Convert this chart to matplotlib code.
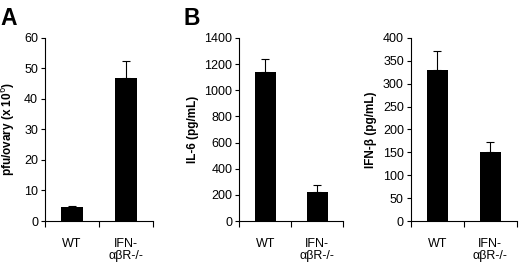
import matplotlib
matplotlib.use("Agg")
import matplotlib.pyplot as plt
import matplotlib.ticker as mticker

plt.rcParams["font.family"] = ["Liberation Sans", "DejaVu Sans"]

groups = ["WT", "IFN-\nαβR-/-"]

pfu_mean = [4.5, 47]
pfu_err = [0.5, 5.5]

il6_mean = [1140, 225]
il6_err = [100, 50]

ifnb_mean = [330, 150]
ifnb_err = [42, 22]

panels = [
    dict(mean=pfu_mean, err=pfu_err, ylim=60, step=10, ylabel="pfu/ovary (x 10$^{6}$)",
         rect=[0.0865, 0.166, 0.208, 0.691], letter="A", lx=0.0),
    dict(mean=il6_mean, err=il6_err, ylim=1400, step=200, ylabel="IL-6 (pg/mL)",
         rect=[0.46, 0.166, 0.20, 0.691], letter="B", lx=0.352),
    dict(mean=ifnb_mean, err=ifnb_err, ylim=400, step=50, ylabel="IFN-β (pg/mL)",
         rect=[0.79, 0.166, 0.204, 0.691], letter=None, lx=None),
]

fig = plt.figure(figsize=(5.2, 2.65), dpi=100)

for p in panels:
    ax = fig.add_axes(p["rect"])
    x = range(len(groups))
    ax.bar(x, p["mean"], width=0.4, color="black", zorder=2)
    ax.errorbar(x, p["mean"], yerr=[[0] * len(groups), p["err"]], fmt="none",
                ecolor="black", elinewidth=0.8, capsize=3, capthick=0.8, zorder=1)
    ax.set_xlim(-0.5, 1.5)
    ax.set_ylim(0, p["ylim"])
    ax.yaxis.set_major_locator(mticker.MultipleLocator(p["step"]))
    ax.set_xticks(list(x))
    ax.set_xticklabels(groups, fontsize=9, linespacing=1.05)
    ax.tick_params(axis="x", length=0, pad=12)
    ax.set_xticks([-0.5, 0.5, 1.5], minor=True)
    ax.tick_params(axis="x", which="minor", length=4, width=0.8, direction="out")
    ax.tick_params(axis="y", length=3, width=0.8, labelsize=9, pad=2)
    for s in ["top", "right"]:
        ax.spines[s].set_visible(False)
    for s in ["left", "bottom"]:
        ax.spines[s].set_linewidth(0.8)
    ax.set_ylabel(p["ylabel"], fontsize=8.5, fontweight="bold", labelpad=4)
    if p["letter"]:
        fig.text(p["lx"], 0.975, p["letter"], fontsize=16.5, fontweight="bold", va="top", ha="left")

fig.savefig("out.png", dpi=100)
